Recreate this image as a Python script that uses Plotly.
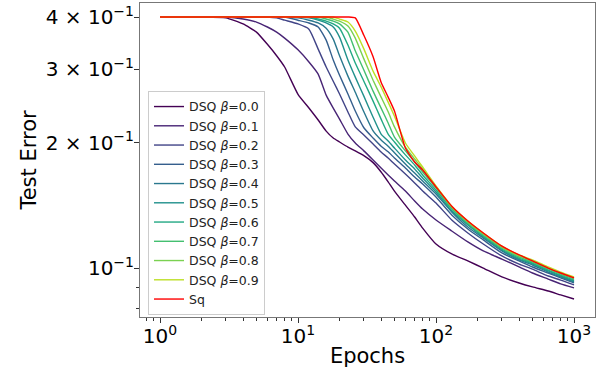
import plotly.graph_objects as go

epochs = [1, 2, 3, 4, 5, 6, 7, 8, 10, 12, 14, 16, 18, 20, 23, 26, 30, 35, 40, 45, 50,
          60, 70, 80, 100, 130, 170, 220, 300, 400, 500, 650, 800, 1000]

dsq_00 = [0.400, 0.400, 0.398, 0.385, 0.368, 0.344, 0.323, 0.3035, 0.261, 0.242, 0.2265, 0.213,
          0.205, 0.2006, 0.195, 0.191, 0.186, 0.179, 0.170, 0.161, 0.153, 0.1415, 0.1326, 0.1247,
          0.1142, 0.1081, 0.1040, 0.1000, 0.0952, 0.0921, 0.0901, 0.0881, 0.0862, 0.0843]
dsq_01 = [0.400, 0.400, 0.400, 0.3955, 0.389, 0.3785, 0.368, 0.356, 0.3336, 0.312, 0.2918, 0.2598,
          0.2418, 0.2276, 0.2096, 0.1995, 0.191, 0.1816, 0.1737, 0.1672, 0.1617, 0.153, 0.1448,
          0.1385, 0.1304, 0.1227, 0.1155, 0.1099, 0.1051, 0.1006, 0.0973, 0.0941, 0.0916, 0.0896]
dsq_02 = [0.400, 0.400, 0.400, 0.400, 0.400, 0.400, 0.398, 0.393, 0.385, 0.374, 0.335, 0.3035,
          0.2806, 0.2615, 0.2367, 0.218, 0.2085, 0.1984, 0.1898, 0.1836, 0.1776, 0.168, 0.160,
          0.153, 0.1432, 0.1304, 0.1214, 0.1142, 0.1069, 0.1022, 0.0994, 0.0957, 0.0936, 0.0911]
dsq_03 = [0.400, 0.400, 0.400, 0.400, 0.400, 0.400, 0.400, 0.400, 0.393, 0.387, 0.3785, 0.352,
          0.3155, 0.290, 0.2615, 0.238, 0.217, 0.205, 0.196, 0.190, 0.1836, 0.1737, 0.1653,
          0.1591, 0.148, 0.1341, 0.1241, 0.1168, 0.1087, 0.1040, 0.1006, 0.0973, 0.0947, 0.0921]
dsq_04 = [0.400, 0.400, 0.400, 0.400, 0.400, 0.400, 0.400, 0.400, 0.398, 0.393, 0.387, 0.376,
          0.354, 0.323, 0.2886, 0.264, 0.237, 0.2132, 0.2028, 0.196, 0.189, 0.1776, 0.169,
          0.1617, 0.1505, 0.1363, 0.1254, 0.118, 0.1099, 0.1046, 0.1017, 0.0978, 0.0952, 0.0926]
dsq_05 = [0.400, 0.400, 0.400, 0.400, 0.400, 0.400, 0.400, 0.400, 0.400, 0.398, 0.393, 0.387,
          0.3785, 0.358, 0.3155, 0.287, 0.2584, 0.230, 0.2096, 0.2017, 0.194, 0.1816, 0.1728,
          0.1644, 0.1522, 0.137, 0.1268, 0.1187, 0.1105, 0.1051, 0.1023, 0.0984, 0.0957, 0.0931]
dsq_06 = [0.400, 0.400, 0.400, 0.400, 0.400, 0.400, 0.400, 0.400, 0.400, 0.400, 0.3955, 0.391,
          0.385, 0.376, 0.3426, 0.3103, 0.2806, 0.2514, 0.2276, 0.2096, 0.2006, 0.1868, 0.1767,
          0.1672, 0.1539, 0.1385, 0.1276, 0.1194, 0.1111, 0.1057, 0.1028, 0.0989, 0.0962, 0.0936]
dsq_07 = [0.400, 0.400, 0.400, 0.400, 0.400, 0.400, 0.400, 0.400, 0.400, 0.400, 0.400, 0.3955,
          0.391, 0.385, 0.368, 0.3318, 0.2984, 0.2656, 0.2418, 0.2228, 0.206, 0.191, 0.1796,
          0.170, 0.1556, 0.1393, 0.1283, 0.120, 0.1117, 0.1063, 0.1034, 0.0995, 0.0967, 0.0941]
dsq_08 = [0.400, 0.400, 0.400, 0.400, 0.400, 0.400, 0.400, 0.400, 0.400, 0.400, 0.400, 0.400,
          0.3955, 0.391, 0.3806, 0.356, 0.3174, 0.2822, 0.257, 0.237, 0.218, 0.195, 0.1826,
          0.1728, 0.1565, 0.140, 0.129, 0.1207, 0.1123, 0.1069, 0.104, 0.100, 0.0973, 0.0947]
dsq_09 = [0.400, 0.400, 0.400, 0.400, 0.400, 0.400, 0.400, 0.400, 0.400, 0.400, 0.400, 0.400,
          0.400, 0.3955, 0.389, 0.370, 0.3354, 0.2966, 0.272, 0.250, 0.2313, 0.1995, 0.1857,
          0.1747, 0.1573, 0.1407, 0.1297, 0.1214, 0.1129, 0.1075, 0.1046, 0.1006, 0.0978, 0.0952]
sq = [0.400, 0.400, 0.400, 0.400, 0.400, 0.400, 0.400, 0.400, 0.400, 0.400, 0.400, 0.400,
      0.400, 0.400, 0.400, 0.398, 0.3615, 0.321, 0.279, 0.257, 0.238, 0.194, 0.1796,
      0.1719, 0.1565, 0.1407, 0.1297, 0.1214, 0.1129, 0.1075, 0.104, 0.100, 0.0973, 0.0947]

series_names = ["DSQ <i>β</i>=0.0", "DSQ <i>β</i>=0.1", "DSQ <i>β</i>=0.2", "DSQ <i>β</i>=0.3",
                "DSQ <i>β</i>=0.4", "DSQ <i>β</i>=0.5", "DSQ <i>β</i>=0.6", "DSQ <i>β</i>=0.7",
                "DSQ <i>β</i>=0.8", "DSQ <i>β</i>=0.9", "Sq"]
series_colors = ["#440154", "#482475", "#414487", "#355f8d", "#2a788e", "#21918c",
                 "#22a884", "#44bf70", "#7ad151", "#bddf26", "#ff0000"]
series_values = [dsq_00, dsq_01, dsq_02, dsq_03, dsq_04, dsq_05, dsq_06, dsq_07, dsq_08,
                 dsq_09, sq]

x_tickvals = [1, 10, 100, 1000]
x_ticktext = ["10<sup>0</sup>", "10<sup>1</sup>", "10<sup>2</sup>", "10<sup>3</sup>"]
x_minor = [0.8, 0.9] + [m * d for d in (1, 10, 100) for m in range(2, 10)]
y_tickvals = [0.1, 0.2, 0.3, 0.4]
y_ticktext = ["10<sup>−1</sup>", "2 × 10<sup>−1</sup>", "3 × 10<sup>−1</sup>", "4 × 10<sup>−1</sup>"]
y_minor = [0.08, 0.09]

fig = go.Figure()
for name, color, vals in zip(series_names, series_colors, series_values):
    fig.add_trace(go.Scatter(x=epochs, y=vals, mode="lines", name=name,
                             line=dict(color=color, width=1.4, shape="spline", smoothing=0.5)))

font_family = "DejaVu Sans, sans-serif"
axis_common = dict(showgrid=False, zeroline=False, showline=True, linecolor="#777",
                   linewidth=1, mirror=True, ticks="outside", ticklen=5, tickwidth=1,
                   tickcolor="#333", tickfont=dict(size=20, color="black", family=font_family))

fig.update_xaxes(type="log", range=[-0.1449, 3.152], tickvals=x_tickvals, ticktext=x_ticktext,
                 minor=dict(tickvals=x_minor, ticks="outside", ticklen=3, tickcolor="#333"),
                 ticklabelstandoff=-4,
                 title=dict(text="Epochs", font=dict(size=21, color="black", family=font_family),
                            standoff=1),
                 **axis_common)
fig.update_yaxes(type="log", range=[-1.11736, -0.36437], tickvals=y_tickvals, ticktext=y_ticktext,
                 minor=dict(tickvals=y_minor, ticks="outside", ticklen=3, tickcolor="#333"),
                 ticklabelstandoff=-4,
                 title=dict(text="Test Error", font=dict(size=21, color="black", family=font_family),
                            standoff=3),
                 **axis_common)

fig.update_layout(
    width=598, height=382,
    margin=dict(l=140, r=3, t=3, b=65),
    paper_bgcolor="white", plot_bgcolor="white",
    font=dict(family=font_family, color="black"),
    showlegend=True,
    legend=dict(x=0.0176, y=0.72, xanchor="left", yanchor="top",
                bgcolor="rgba(255,255,255,0.8)", bordercolor="#cccccc", borderwidth=1,
                font=dict(size=12.5, family=font_family, color="#222"),
                itemwidth=30, tracegroupgap=0),
)

fig.write_html("out.html", config={"displayModeBar": False},
               post_script="document.body.style.margin='0px';document.body.style.overflow='hidden';")
